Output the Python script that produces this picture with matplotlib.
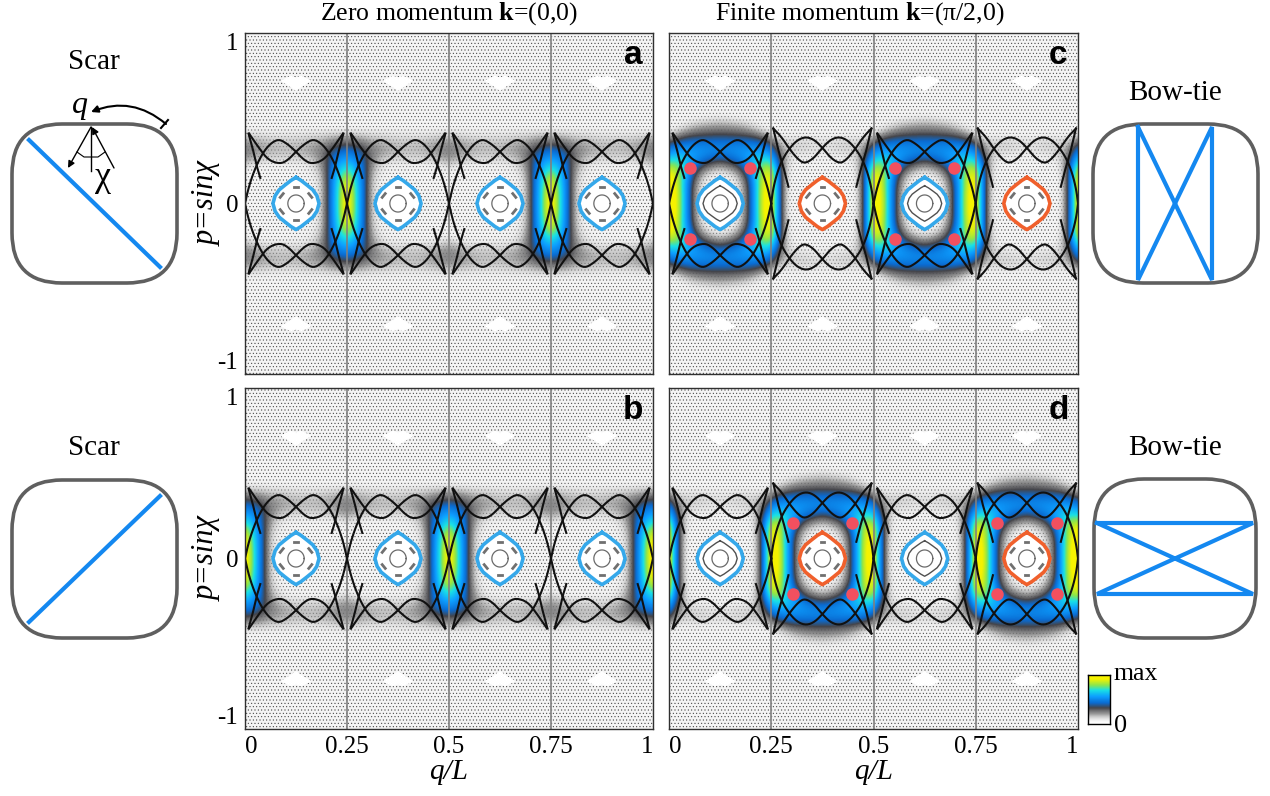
import matplotlib
matplotlib.use("Agg")
import matplotlib.pyplot as plt
import numpy as np
from matplotlib.colors import LinearSegmentedColormap
from matplotlib.patches import FancyBboxPatch, Rectangle

plt.rcParams['font.family'] = ['Liberation Serif', 'DejaVu Serif']
plt.rcParams['mathtext.fontset'] = 'custom'
plt.rcParams['mathtext.rm'] = 'Liberation Serif'
plt.rcParams['mathtext.bf'] = 'Liberation Serif:bold'
plt.rcParams['hatch.linewidth'] = 0.35
plt.rcParams['hatch.color'] = '#3a3a3a'

# separatrix of one cell, u = position across the cell, p = sin(chi)
wave_u_wide = [0.98, 0.90, 0.81, 0.73, 0.67, 0.587, 0.506, 0.426, 0.345, 0.265, 0.19, 0.113, 0.055, 0.016, 0.0]
wave_p_wide = [0.44, 0.39, 0.31, 0.254, 0.235, 0.264, 0.323, 0.372, 0.391, 0.376, 0.333, 0.264, 0.176, 0.078, 0.0]
spur_u_wide = [0.02, 0.07, 0.126, 0.168]
spur_p_wide = [0.44, 0.313, 0.196, 0.098]
wave_u_narrow = [0.96, 0.86, 0.77, 0.656, 0.58, 0.49, 0.41, 0.33, 0.25, 0.178, 0.105, 0.04, 0.0]
wave_p_narrow = [0.41, 0.323, 0.254, 0.232, 0.254, 0.31, 0.352, 0.378, 0.352, 0.30, 0.215, 0.105, 0.0]
spur_u_narrow = [0.035, 0.08, 0.12, 0.15]
spur_p_narrow = [0.41, 0.31, 0.21, 0.15]

# upper right quarter of the island border
island_u = [0.0, 0.05, 0.11, 0.165, 0.205, 0.226]
island_p = [0.153, 0.135, 0.107, 0.08, 0.045, 0.0]
blob_u = [-0.14, -0.05, 0.0, 0.05, 0.14, 0.06, 0.0, -0.06]
blob_p = [0.72, 0.745, 0.735, 0.745, 0.72, 0.69, 0.665, 0.69]

cell_centers = [0.125, 0.375, 0.625, 0.875]
tick_q = [0, 0.25, 0.5, 0.75, 1]
tick_q_labels = ['0', '0.25', '0.5', '0.75', '1']
tick_p = [-1, 0, 1]
tick_p_labels = ['-1', '0', '1']

# intensity, rows p = 0, 0.05 .. 0.6, columns = distance from the feature centre in steps of 1/48
heat_stripe = np.array([
    [1.00, .72, .42, .12, .04, 0, 0, 0, 0, 0, 0, 0, 0],
    [.98, .72, .42, .12, .04, 0, 0, 0, 0, 0, 0, 0, 0],
    [.95, .70, .42, .12, .04, 0, 0, 0, 0, 0, 0, 0, 0],
    [.88, .66, .42, .14, .05, .02, 0, 0, 0, 0, 0, 0, .02],
    [.72, .60, .40, .18, .08, .04, .03, .03, .02, .02, .02, .03, .08],
    [.58, .52, .38, .22, .14, .10, .10, .10, .10, .10, .12, .16, .18],
    [.45, .42, .34, .24, .20, .18, .16, .15, .15, .16, .18, .22, .24],
    [.30, .28, .24, .20, .18, .16, .15, .15, .15, .16, .18, .20, .22],
    [.14, .13, .12, .10, .10, .09, .08, .08, .08, .08, .09, .10, .12],
    [.02, .02, .02, .02, .02, .02, .02, .02, .02, .02, .02, .02, .02],
    [0, 0, 0, 0, 0, 0, 0, 0, 0, 0, 0, 0, 0],
    [0, 0, 0, 0, 0, 0, 0, 0, 0, 0, 0, 0, 0],
    [0, 0, 0, 0, 0, 0, 0, 0, 0, 0, 0, 0, 0],
])
heat_ring = np.array([
    [0, 0, .06, .22, .55, .90, .98, .40, .05, 0, 0, 0, 0],
    [0, 0, .06, .22, .55, .90, .98, .40, .05, 0, 0, 0, 0],
    [0, .01, .07, .24, .55, .88, .96, .40, .06, 0, 0, 0, 0],
    [.02, .05, .12, .30, .58, .86, .94, .40, .07, 0, 0, 0, 0],
    [.14, .18, .26, .42, .62, .80, .86, .38, .08, .02, 0, 0, 0],
    [.34, .38, .44, .52, .62, .70, .68, .32, .10, .05, .04, .04, .04],
    [.50, .50, .52, .54, .56, .56, .50, .24, .14, .10, .10, .08, .08],
    [.46, .46, .46, .46, .45, .42, .33, .16, .12, .12, .12, .10, .10],
    [.32, .32, .31, .30, .27, .20, .11, .05, .05, .06, .06, .05, .05],
    [.20, .19, .18, .15, .10, .05, .02, 0, 0, 0, 0, 0, 0],
    [.08, .07, .05, .04, .02, .01, 0, 0, 0, 0, 0, 0, 0],
    [.01, .01, 0, 0, 0, 0, 0, 0, 0, 0, 0, 0, 0],
    [0, 0, 0, 0, 0, 0, 0, 0, 0, 0, 0, 0, 0],
])

cmap = LinearSegmentedColormap.from_list('scar', [
    (0.0, (1, 1, 1, 0)),
    (0.08, (0.80, 0.80, 0.80, 0.35)),
    (0.20, (0.50, 0.50, 0.50, 0.80)),
    (0.32, (0.27, 0.27, 0.29, 1)),
    (0.42, (0.04, 0.42, 0.82, 1)),
    (0.55, (0.05, 0.62, 1.0, 1)),
    (0.68, (0.10, 0.88, 0.90, 1)),
    (0.78, (0.55, 0.90, 0.30, 1)),
    (0.90, (0.96, 0.95, 0.0, 1)),
    (1.0, (0.98, 0.95, 0.0, 1)),
], N=256)

CYAN = '#35a8ea'
ORANGE = '#f0602c'
RED = '#f2505f'
BLUE = '#1488f0'
GREY = '#5f5f5f'

W, H = 1270, 796
fig = plt.figure(figsize=(W / 100, H / 100), dpi=100)


def panel_axes(x0, x1, y0, y1):
    return fig.add_axes([x0 / W, 1 - y1 / H, (x1 - x0) / W, (y1 - y0) / H])


def heat_field(grid, shift):
    half = np.hstack([grid[:, :0:-1], grid])[:, :-1]
    cols = [(i + shift) % 24 for i in range(49)]
    upper = half[:, cols]
    return np.vstack([upper[:0:-1], upper])


def island_outline(su=1.0, sp=1.0):
    u = np.array(island_u) * su
    p = np.array(island_p) * sp
    uu = np.concatenate([u, u[-2::-1], -u[1:], -u[-2::-1]])
    pp = np.concatenate([p, -p[-2::-1], -p[1:], p[-2::-1]])
    return uu, pp


def rounded(xs, ys, passes=2):
    # corner cutting so the hand read polylines draw as smooth curves
    x, y = np.array(xs, float), np.array(ys, float)
    for _ in range(passes):
        qx, qy = 0.75 * x[:-1] + 0.25 * x[1:], 0.75 * y[:-1] + 0.25 * y[1:]
        rx, ry = 0.25 * x[:-1] + 0.75 * x[1:], 0.25 * y[:-1] + 0.75 * y[1:]
        x = np.concatenate([x[:1], np.column_stack([qx, rx]).ravel(), x[-1:]])
        y = np.concatenate([y[:1], np.column_stack([qy, ry]).ravel(), y[-1:]])
    return x, y


def draw_cell(ax, c, wide, colour, rings):
    # c is the centre of the cell in q, a cell is 0.25 wide
    x0 = c - 0.125
    w_u, w_p = (wave_u_wide, wave_p_wide) if wide else (wave_u_narrow, wave_p_narrow)
    s_u, s_p = (spur_u_wide, spur_p_wide) if wide else (spur_u_narrow, spur_p_narrow)
    w_u, w_p = rounded(w_u, w_p)
    s_u, s_p = np.array(s_u), np.array(s_p)
    for flip_u in (False, True):
        for sign in (1, -1):
            wu = 1 - w_u if flip_u else w_u
            su = 1 - s_u if flip_u else s_u
            ax.plot(x0 + wu * 0.25, sign * w_p, color='#111111', lw=1.5, zorder=6)
            ax.plot(x0 + su * 0.25, sign * s_p, color='#111111', lw=1.5, zorder=6)

    uu, pp = island_outline()
    ax.fill(c + uu * 0.25, pp, color='white', zorder=4)
    ax.plot(c + uu * 0.25, pp, color=colour, lw=2.6, zorder=6, solid_joinstyle='round')
    theta = np.linspace(0, 2 * np.pi, 60)
    ax.plot(c + 0.08 * 0.25 * np.cos(theta), 0.05 * np.sin(theta), color='#6a6a6a', lw=0.9, zorder=5)
    if rings == 'dashes':
        for su in (1, -1):
            for sp in (1, -1):
                ax.plot([c + su * 0.125 * 0.25, c + su * 0.155 * 0.25], [sp * 0.058, sp * 0.036],
                        color='#707070', lw=2.0, zorder=5)
            ax.plot([c - 0.015 * 0.25, c + 0.015 * 0.25], [su * 0.095, su * 0.095], color='#707070', lw=2.0, zorder=5)
    else:
        ru, rp = island_outline(0.74, 0.68)
        ax.plot(c + ru * 0.25, rp, color='#505050', lw=1.0, zorder=5)

    for sp in (1, -1):
        ax.fill(c + np.array(blob_u) * 0.25, sp * np.array(blob_p), color='white', zorder=2)


# layout of the four panels
panels = {
    'a': dict(box=(245, 653, 33, 374), grid=heat_stripe, shift=0, dots=[], colours=[CYAN] * 4,
              rings=['dashes'] * 4, wide=[False] * 4),
    'b': dict(box=(245, 653, 388, 729), grid=heat_stripe, shift=12, dots=[], colours=[CYAN] * 4,
              rings=['dashes'] * 4, wide=[False] * 4),
    'c': dict(box=(669, 1078, 33, 374), grid=heat_ring, shift=6, dots=[0.125, 0.625],
              colours=[CYAN, ORANGE, CYAN, ORANGE], rings=['lines', 'dashes', 'lines', 'dashes'],
              wide=[False, True, False, True]),
    'd': dict(box=(669, 1078, 388, 729), grid=heat_ring, shift=18, dots=[0.375, 0.875],
              colours=[CYAN, ORANGE, CYAN, ORANGE], rings=['lines', 'dashes', 'lines', 'dashes'],
              wide=[False, True, False, True]),
}

for name, cfg in panels.items():
    ax = panel_axes(*cfg['box'])
    ax.add_patch(Rectangle((0, -1), 1, 2, facecolor='#f4f4f4', edgecolor='#3a3a3a', hatch='.' * 5, lw=0, zorder=1))
    dq, dp = 1 / 48, 0.05
    ax.imshow(heat_field(cfg['grid'], cfg['shift']), cmap=cmap, vmin=0, vmax=1, origin='lower',
              extent=[-dq / 2, 1 + dq / 2, -0.6 - dp / 2, 0.6 + dp / 2], aspect='auto',
              interpolation='bicubic', interpolation_stage='data', zorder=3)
    for q in tick_q[1:-1]:
        ax.axvline(q, color='#808080', lw=1.2, zorder=3.5)
    for c, colour, ring, wide in zip(cell_centers, cfg['colours'], cfg['rings'], cfg['wide']):
        draw_cell(ax, c, wide, colour, ring)
    for c in cfg['dots']:
        ax.plot([c - 0.0725, c + 0.0725] * 2, [0.207, 0.207, -0.207, -0.207], 'o', color=RED,
                ms=9, mew=0, zorder=7)
    ax.set_xlim(0, 1)
    ax.set_ylim(-1, 1)
    ax.tick_params(length=0, labelsize=18, pad=5)
    ax.set_xticks(tick_q)
    ax.set_yticks(tick_p)
    if name in 'bd':
        ax.set_xticklabels(tick_q_labels)
        labels = ax.get_xticklabels()
        labels[0].set_ha('left')
        labels[-1].set_ha('right')
        ax.set_xlabel('q/L', style='italic', fontsize=21, labelpad=1)
    else:
        ax.set_xticklabels([])
    if name in 'ab':
        ax.set_yticklabels(tick_p_labels)
        labels = ax.get_yticklabels()
        labels[0].set_va('bottom')
        labels[2].set_va('top')
        ax.set_ylabel('p=sinχ', style='italic', fontsize=22, labelpad=-3)
    else:
        ax.set_yticklabels([])
    for s in ax.spines.values():
        s.set_color('#303030')
        s.set_linewidth(1.0)
        s.set_zorder(9)
    ax.text(0.952, 0.933, name, transform=ax.transAxes, family='Liberation Sans', weight='bold', fontsize=24,
            ha='center', va='center', zorder=10)

# colour bar
cax = panel_axes(1088, 1110, 675, 724)
cax.imshow(np.linspace(0, 1, 128)[:, None], cmap=cmap, vmin=0, vmax=1, origin='lower', aspect='auto')
cax.set_xticks([])
cax.set_yticks([])
for s in cax.spines.values():
    s.set_linewidth(1.0)

# billiard sketches, pixel coordinates of the whole picture
over = fig.add_axes([0, 0, 1, 1], facecolor='none')
over.set_xlim(0, W)
over.set_ylim(H, 0)
over.axis('off')

boxes = [(12, 124, 165, 159), (12, 480, 165, 158), (1093, 124, 165, 159), (1094, 479, 162, 159)]
for x, y, w, h in boxes:
    over.add_patch(FancyBboxPatch((x + 50, y + 50), w - 100, h - 100, boxstyle='round,pad=50,rounding_size=50',
                                  fc='none', ec=GREY, lw=2.6, zorder=2))

traj_x = [[29, 160], [29, 160], [1138, 1138, 1212, 1212, 1138], [1097, 1253, 1097, 1253, 1097]]
traj_y = [[140, 267], [622, 496], [127, 280, 127, 280, 127], [523, 523, 594, 594, 523]]
for xs, ys in zip(traj_x, traj_y):
    over.plot(xs, ys, color=BLUE, lw=3.0, solid_joinstyle='miter', zorder=3)

for txt, x, y in [('Scar', 94, 62), ('Scar', 94, 448), ('Bow-tie', 1175, 93), ('Bow-tie', 1175, 448)]:
    over.text(x, y, txt, fontsize=21, ha='center', va='center')
over.text(449, 14, r'Zero momentum $\mathbf{k}$=(0,0)', fontsize=18.5, ha='center', va='center')
over.text(860, 14, r'Finite momentum $\mathbf{k}$=(π/2,0)', fontsize=18.5, ha='center', va='center')
over.text(1114, 674, 'max', fontsize=18.5, ha='left', va='center')
over.text(1114, 726, '0', fontsize=19, ha='left', va='center')

# angle annotation in the first sketch
over.text(80, 106, 'q', style='italic', fontsize=23, ha='center', va='center')
over.text(103, 177, 'χ', fontsize=26, ha='center', va='center')
over.annotate('', xy=(91, 112), xytext=(166, 124),
              arrowprops=dict(arrowstyle='-|>', color='black', lw=1.5, connectionstyle='arc3,rad=0.3', shrinkA=0, shrinkB=0))
over.plot([161, 168], [128, 120], color='black', lw=1.5)
over.plot([91, 91], [127, 171], color='black', lw=1)
over.annotate('', xy=(68, 168), xytext=(91, 127),
              arrowprops=dict(arrowstyle='-|>', color='black', lw=1, shrinkA=0, shrinkB=0))
over.annotate('', xy=(92, 127), xytext=(114, 168),
              arrowprops=dict(arrowstyle='-|>', color='black', lw=1, shrinkA=0, shrinkB=0))
over.plot([77, 84, 91, 98, 105], [152, 157, 157, 157, 152], color='black', lw=0.8)

fig.savefig('out.png', dpi=100)
